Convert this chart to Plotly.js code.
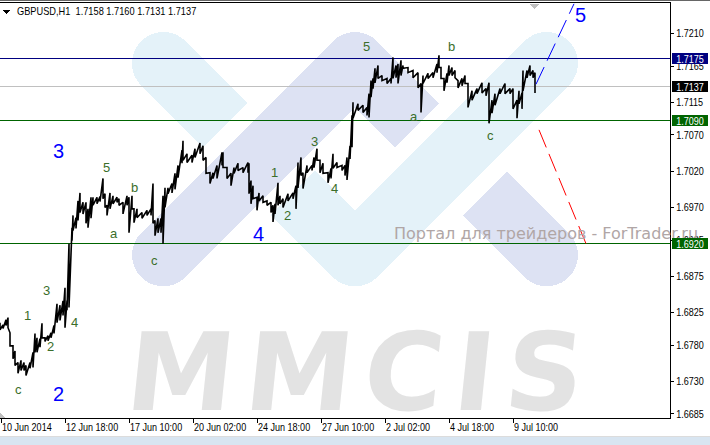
<!DOCTYPE html>
<html><head><meta charset="utf-8"><style>html,body{margin:0;padding:0;background:#fff}#c{width:710px;height:445px}</style>
<script src="https://cdn.plot.ly/plotly-3.0.1.min.js"></script></head><body><div id="c"></div>
<script>
// hourly bars (bar position on the time axis, sampled)
const bars=[0,3,6,8,10,13,15,18,21,24,26,30,33,35,37,40,42,45,48,51,54,57,60,63,65,67,69,72,73,76,78,80,83,86,88,91,93,97,100,103,105,107,110,113,117,119,123,127,129,132,134,137,142,147,151,153,155,158,161,163,165,168,172,175,178,182,183,187,192,195,200,203,206,210,213,217,222,223,227,231,234,238,243,248,249,251,253,257,259,263,267,271,273,275,278,280,283,288,293,296,298,301,303,307,312,314,317,320,323,328,331,333,337,342,345,347,350,352,353,358,363,367,369,371,373,375,378,382,387,391,393,396,398,401,403,408,413,418,421,423,428,433,437,439,441,444,447,449,452,455,458,462,465,468,472,477,482,486,489,492,495,500,505,510,513,517,519,522,523,527,530,533,535];
const highs=[1.6811,1.6808,1.6815,1.6818,1.6797,1.6779,1.6772,1.6756,1.6759,1.6756,1.6752,1.6756,1.6770,1.6796,1.6790,1.6789,1.6810,1.6790,1.6793,1.6797,1.6807,1.6837,1.6835,1.6841,1.6859,1.6841,1.6920,1.6942,1.6959,1.6956,1.6979,1.6990,1.6977,1.6977,1.6968,1.6984,1.6984,1.6984,1.6985,1.7010,1.6989,1.6973,1.6990,1.6986,1.6984,1.6982,1.6977,1.6986,1.6984,1.6986,1.6968,1.6968,1.6963,1.6966,1.6968,1.7003,1.6952,1.6955,1.6955,1.6986,1.6997,1.6997,1.7003,1.7017,1.7028,1.7049,1.7062,1.7044,1.7042,1.7051,1.7059,1.7055,1.7039,1.7018,1.7018,1.7028,1.7046,1.7046,1.7025,1.7017,1.7025,1.7031,1.7025,1.7032,1.7031,1.7007,1.7000,1.6984,1.6990,1.6986,1.6979,1.6977,1.6973,1.6975,1.7004,1.6986,1.6982,1.6989,1.6990,1.7000,1.7032,1.7039,1.7018,1.7028,1.7028,1.7039,1.7051,1.7035,1.7031,1.7018,1.7024,1.7044,1.7032,1.7028,1.7028,1.7039,1.7055,1.7097,1.7115,1.7113,1.7111,1.7108,1.7127,1.7145,1.7148,1.7162,1.7166,1.7152,1.7148,1.7148,1.7177,1.7166,1.7168,1.7173,1.7166,1.7163,1.7159,1.7156,1.7141,1.7152,1.7155,1.7156,1.7168,1.7180,1.7163,1.7148,1.7155,1.7166,1.7163,1.7159,1.7145,1.7148,1.7152,1.7141,1.7131,1.7134,1.7142,1.7134,1.7142,1.7118,1.7127,1.7134,1.7141,1.7134,1.7134,1.7118,1.7131,1.7128,1.7159,1.7159,1.7166,1.7159,1.7156];
const lows=[1.6801,1.6803,1.6807,1.6804,1.6779,1.6761,1.6752,1.6741,1.6745,1.6745,1.6738,1.6748,1.6749,1.6770,1.6770,1.6777,1.6790,1.6785,1.6786,1.6790,1.6796,1.6811,1.6814,1.6821,1.6804,1.6828,1.6832,1.6924,1.6938,1.6941,1.6952,1.6963,1.6961,1.6948,1.6942,1.6955,1.6973,1.6975,1.6978,1.6982,1.6970,1.6959,1.6968,1.6975,1.6977,1.6973,1.6961,1.6973,1.6935,1.6968,1.6949,1.6956,1.6955,1.6959,1.6959,1.6948,1.6931,1.6935,1.6935,1.6920,1.6970,1.6989,1.6990,1.6995,1.7011,1.7031,1.7035,1.7032,1.7032,1.7039,1.7044,1.7035,1.7017,1.7003,1.7010,1.7010,1.7028,1.7025,1.7010,1.7000,1.7017,1.7021,1.7018,1.7018,1.6989,1.6975,1.6982,1.6966,1.6979,1.6977,1.6973,1.6963,1.6950,1.6961,1.6973,1.6975,1.6970,1.6979,1.6982,1.6968,1.6997,1.7014,1.6996,1.7018,1.7021,1.7025,1.7035,1.7018,1.7017,1.7004,1.7010,1.7024,1.7025,1.7021,1.7014,1.7008,1.7037,1.7053,1.7093,1.7104,1.7101,1.7097,1.7094,1.7122,1.7134,1.7142,1.7148,1.7145,1.7141,1.7141,1.7148,1.7149,1.7141,1.7152,1.7162,1.7156,1.7149,1.7135,1.7101,1.7141,1.7148,1.7149,1.7156,1.7163,1.7148,1.7131,1.7142,1.7152,1.7152,1.7149,1.7135,1.7138,1.7141,1.7108,1.7118,1.7127,1.7128,1.7124,1.7086,1.7100,1.7111,1.7127,1.7127,1.7127,1.7106,1.7093,1.7113,1.7106,1.7131,1.7149,1.7152,1.7149,1.7128];
const title='GBPUSD,H1  1.7158 1.7160 1.7131 1.7137';
const yTicks=[1.7210,1.7165,1.7115,1.7070,1.7020,1.6970,1.6925,1.6875,1.6825,1.6780,1.6730,1.6685];
const xTickBars=[1,65,129,193,257,321,385,449,513];
const xTickText=['10 Jun 2014','12 Jun 18:00','17 Jun 10:00','20 Jun 02:00','24 Jun 18:00','27 Jun 10:00','2 Jul 02:00','4 Jul 18:00','9 Jul 10:00'];
const levelPrices=[1.7175,1.7137,1.7090,1.6920];
const levelLine=['#000080','#c0c0c0','#006400','#006400'];
const levelBox=['#000080','#000000','#006400','#006400'];
const upBars=[536,574],upPrices=[1.7140,1.7251];
const downBars=[539,586],downPrices=[1.7077,1.6920];
const waveText=['c','1','2','3','4','a','5','b','c','1','2','3','4','5','a','b','c'];
const waveBars=[18,27,50,46,74,114,106,134,154,274,287,314,334,366,414,451,490];
const wavePrices=[1.6719,1.6821,1.6778,1.6855,1.6811,1.6934,1.7025,1.6997,1.6897,1.7018,1.6959,1.7061,1.6996,1.7192,1.7095,1.7192,1.7069];
const bigText=['2','3','4','5'];
const bigBars=[58,58,258,580];
const bigPrices=[1.6712,1.7048,1.6934,1.7235];

const W=670,H=415,T=3;
const px=x=>x/W, py=y=>1-(y-T)/H;
const pt=(x,y)=>px(x).toFixed(5)+','+py(y).toFixed(5);
const R=31.3;
function seg(a,b){const d=Math.hypot(b[0]-a[0],b[1]-a[1]),nx=-(b[1]-a[1])/d*R,ny=(b[0]-a[0])/d*R;
 return 'M'+pt(a[0]+nx,a[1]+ny)+'L'+pt(b[0]+nx,b[1]+ny)+'L'+pt(b[0]-nx,b[1]-ny)+'L'+pt(a[0]-nx,a[1]-ny)+'Z';}
function disc(c){let s='';for(let i=0;i<48;i++){const t=i/48*2*Math.PI;s+=(i?'L':'M')+pt(c[0]+R*Math.cos(t),c[1]+R*Math.sin(t));}return s+'Z';}
const PALE='#e4f2f9',LAV='#dde2f3';
const logo=[];
const add=(p,col)=>logo.push({type:'path',path:p,xref:'paper',yref:'paper',fillcolor:col,line:{width:0},layer:'below'});
const A=[163.3,63.3],B=[225.3,125.3],C=[293,193],D=[355,255],E=[546.7,63.3];
[seg(A,B),disc(A),seg(C,D),disc(D),seg(D,E),disc(E)].forEach(p=>add(p,PALE));
const F=[163.3,255],G=[355,63.3],I=[417,125.3],J=[485,193.3],K=[546.7,255];
[seg(F,G),disc(F),disc(G),seg(G,I),seg(J,K),disc(K)].forEach(p=>add(p,LAV));

const shapes=logo.concat(
 levelPrices.map((p,i)=>({type:'line',xref:'paper',yref:'y',x0:0,x1:1,y0:p,y1:p,line:{color:levelLine[i],width:1},layer:'below'})),
 [
 {type:'rect',xref:'paper',yref:'paper',x0:0,x1:710/W,y0:py(0),y1:py(1),fillcolor:'#666',line:{width:0}},
 {type:'rect',xref:'paper',yref:'paper',x0:0,x1:710/W,y0:py(436),y1:py(437),fillcolor:'#dcdcdc',line:{width:0}},
 {type:'rect',xref:'paper',yref:'paper',x0:0,x1:710/W,y0:py(437),y1:py(445),fillcolor:'#d8e5f1',line:{width:0}},
 {type:'path',xref:'paper',yref:'paper',path:'M'+pt(3,10)+'L'+pt(10,10)+'L'+pt(6.5,14)+'Z',fillcolor:'#000',line:{width:0}},
 {type:'path',xref:'paper',yref:'paper',path:'M'+pt(530,4)+'L'+pt(539,4)+'L'+pt(534.5,9)+'Z',fillcolor:'#c0c0c0',line:{width:0}},
 {type:'path',xref:'paper',yref:'paper',path:'M'+pt(0,412)+'L'+pt(5,418)+'L'+pt(0,418)+'Z',fillcolor:'#c0c0c0',line:{width:0}}
 ]);

const FN='"Liberation Sans",sans-serif';
const ann=[];
ann.push({xref:'paper',yref:'paper',x:15/W,y:py(11),xanchor:'left',yanchor:'middle',text:title.replace(/  /g,'&nbsp;&nbsp;'),showarrow:false,font:{family:FN,size:11,color:'#000'}});
xTickBars.forEach((b,i)=>ann.push({xref:'x',yref:'paper',x:b,xshift:-1,y:py(427),xanchor:'left',yanchor:'middle',text:xTickText[i],showarrow:false,font:{family:FN,size:11,color:'#000'}}));
waveText.forEach((t,i)=>ann.push({xref:'x',yref:'y',x:waveBars[i],y:wavePrices[i],text:t,showarrow:false,xanchor:'center',yanchor:'middle',font:{family:FN,size:13,color:'#3b6e2a'}}));
bigText.forEach((t,i)=>ann.push({xref:'x',yref:'y',x:bigBars[i],y:bigPrices[i],text:t,showarrow:false,xanchor:'center',yanchor:'middle',font:{family:FN,size:20,color:'#0000ff'}}));
ann.push({xref:'paper',yref:'paper',x:392/W,y:py(233),xanchor:'left',yanchor:'middle',text:'Портал для трейдеров - ForTrader.ru',showarrow:false,font:{family:'"DejaVu Sans",sans-serif',size:16,color:'#b0a6a6'}});
ann.push({xref:'paper',yref:'paper',x:122/W,y:py(372),xanchor:'left',yanchor:'middle',text:'MMCIS',showarrow:false,font:{family:'"DejaVu Sans",sans-serif',size:108,weight:700,color:'#e3e3e3'}});
levelPrices.forEach((p,i)=>ann.push({xref:'paper',yref:'y',x:1,xshift:2,y:p,xanchor:'left',yanchor:'middle',text:p.toFixed(4),showarrow:false,width:36,height:11,borderpad:0,borderwidth:0,bgcolor:levelBox[i],align:'center',font:{family:FN,size:11,color:'#fff'}}));

const xs=[],ys=[];
bars.forEach((b,i)=>{xs.push(b,b);ys.push(highs[i],lows[i]);});
const traces=[
 {type:'scatter',mode:'lines',x:xs,y:ys,line:{color:'#000',width:1.6},hoverinfo:'skip',showlegend:false},
 {type:'scatter',mode:'lines',x:upBars,y:upPrices,line:{color:'#0000ff',width:1,dash:'19px,7px'},showlegend:false},
 {type:'scatter',mode:'lines',x:downBars,y:downPrices,line:{color:'#ff0000',width:1,dash:'19px,7px'},showlegend:false}
];
const layout={width:710,height:445,margin:{l:0,r:40,t:3,b:27,pad:0},paper_bgcolor:'#fff',plot_bgcolor:'rgba(0,0,0,0)',showlegend:false,
 xaxis:{range:[0,W],tickvals:xTickBars,ticks:'outside',ticklen:4,tickwidth:1,tickcolor:'#000',showticklabels:false,showgrid:false,zeroline:false,showline:true,linecolor:'#000',linewidth:1,mirror:true},
 yaxis:{side:'right',range:[1.66794,1.72521],autorange:false,tickvals:yTicks,ticktext:yTicks.map(v=>v.toFixed(4)),ticks:'outside',ticklen:3,tickwidth:1,tickcolor:'#000',showgrid:false,zeroline:false,showline:true,linecolor:'#000',linewidth:1,tickfont:{family:FN,size:11,color:'#000'}},
 shapes:shapes,annotations:ann};
Plotly.newPlot('c',traces,layout,{displayModeBar:false,staticPlot:true}).then(()=>{
 document.querySelectorAll('.shapelayer path').forEach(p=>{p.style.shapeRendering='crispEdges';});
 const narrow=(t,r)=>{const len=t.getComputedTextLength();t.setAttribute('textLength',(len*r).toFixed(1));t.setAttribute('lengthAdjust','spacingAndGlyphs');return len*(1-r);};
 document.querySelectorAll('.annotation-text').forEach(t=>{
  const s=t.textContent;
  if(s==='MMCIS'){
   t.style.letterSpacing='11px';
   const yb=parseFloat(t.getAttribute('y'))||0;
   t.setAttribute('transform','translate('+(27+yb*Math.tan(6*Math.PI/180)).toFixed(2)+',0) skewX(-6)');
  } else if(/GBPUSD/.test(s)||/\d\d:\d\d|2014/.test(s)){
   const saved=narrow(t,/GBPUSD/.test(s)?0.84:0.82);
   t.setAttribute('transform','translate('+(-saved/2).toFixed(2)+',0)');
  } else if(/^\d\.\d{4}$/.test(s)) narrow(t,0.82);
 });
 document.querySelectorAll('.ytick text').forEach(t=>narrow(t,0.82));
});
</script></body></html>
